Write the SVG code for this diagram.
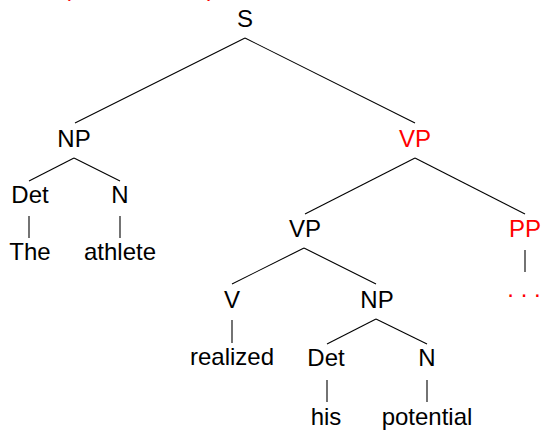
<svg xmlns="http://www.w3.org/2000/svg" width="542" height="430" viewBox="0 0 542 430">
<style>
text{font-family:"Liberation Sans",Arial,sans-serif;font-size:24px;fill:#000;text-anchor:middle}
text.r{fill:#ff0000}
#edges line{stroke:#000;stroke-width:1.1}
</style>
<rect width="542" height="430" fill="#fff"/>
<text class="r" x="67" y="-4">(</text>
<text class="r" x="211" y="-4">)</text>
<g id="edges">
<line x1="245" y1="38" x2="75" y2="123"/>
<line x1="245" y1="38" x2="415" y2="123"/>
<line x1="74" y1="158" x2="29" y2="181"/>
<line x1="74" y1="158" x2="120" y2="181"/>
<line x1="29" y1="216" x2="29" y2="238"/>
<line x1="120" y1="216" x2="120" y2="238"/>
<line x1="415" y1="158" x2="305" y2="214"/>
<line x1="415" y1="158" x2="525" y2="214"/>
<line x1="525" y1="250" x2="525" y2="272"/>
<line x1="304" y1="248" x2="232" y2="284"/>
<line x1="304" y1="248" x2="376" y2="284"/>
<line x1="232" y1="320" x2="232" y2="343"/>
<line x1="376" y1="319" x2="327" y2="344"/>
<line x1="376" y1="319" x2="427" y2="344"/>
<line x1="327" y1="380" x2="327" y2="402"/>
<line x1="427" y1="380" x2="427" y2="402"/>
</g>
<g id="n-s"><text x="245" y="27">S</text></g>
<g id="n-np1"><text x="74" y="147">NP</text></g>
<g id="n-vp1"><text class="r" x="415" y="147">VP</text></g>
<g id="n-det1"><text x="30" y="203">Det</text></g>
<g id="n-n1"><text x="120" y="203">N</text></g>
<g id="n-the"><text x="30" y="260">The</text></g>
<g id="n-athlete"><text x="120" y="260">athlete</text></g>
<g id="n-vp2"><text x="305" y="237">VP</text></g>
<g id="n-pp"><text class="r" x="525" y="237">PP</text></g>
<g id="n-dots"><text class="r" x="524" y="297">. . .</text></g>
<g id="n-v"><text x="232" y="308">V</text></g>
<g id="n-np2"><text x="377" y="308">NP</text></g>
<g id="n-realized"><text x="232" y="365">realized</text></g>
<g id="n-det2"><text x="326" y="366">Det</text></g>
<g id="n-n2"><text x="427" y="366">N</text></g>
<g id="n-his"><text x="326" y="425">his</text></g>
<g id="n-potential"><text x="427" y="425">potential</text></g>
</svg>
